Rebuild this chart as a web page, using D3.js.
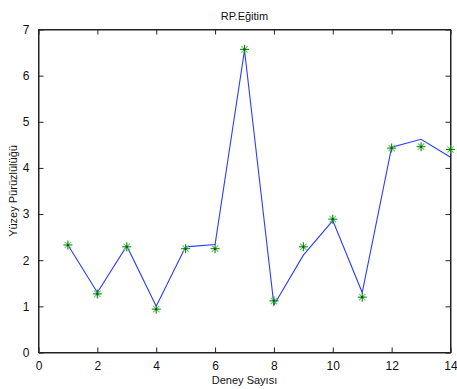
<!DOCTYPE html>
<html>
<head>
<meta charset="utf-8">
<script src="https://cdn.jsdelivr.net/npm/d3@7"></script>
<style>
  html, body { margin: 0; padding: 0; background: #fff; }
  svg { display: block; }
  text { font-family: "Liberation Sans", Arial, sans-serif; fill: #111; }
</style>
</head>
<body>
<script>
const titleText = "RP.Eğitim";
const xLabel = "Deney Sayısı";
const yLabel = "Yüzey Pürüzlülüğü";
const experiments = [1, 2, 3, 4, 5, 6, 7, 8, 9, 10, 11, 12, 13, 14];
const predicted = [2.33, 1.30, 2.31, 1.00, 2.29, 2.34, 6.55, 1.03, 2.11, 2.86, 1.30, 4.45, 4.62, 4.23];
const measured = [2.33, 1.27, 2.29, 0.94, 2.25, 2.25, 6.57, 1.12, 2.29, 2.89, 1.20, 4.43, 4.46, 4.40];
const xTicks = [0, 2, 4, 6, 8, 10, 12, 14];
const yTicks = [0, 1, 2, 3, 4, 5, 6, 7];

const W = 457, H = 389;
const L = 38.5, R = 450.5, T = 29.5, B = 352.5;

const svg = d3.select("body").append("svg").attr("width", W).attr("height", H);

const x = d3.scaleLinear().domain([0, 14]).range([L, R]);
const y = d3.scaleLinear().domain([0, 7]).range([B, T]);

const axisColor = "#222";
const tickLen = 5;
const fmt = d3.format("d");

svg.append("rect").attr("x", L).attr("y", T).attr("width", R - L).attr("height", B - T)
  .attr("fill", "none").attr("stroke", axisColor).attr("stroke-width", 1);

const gx = svg.append("g").attr("transform", `translate(0,${B})`)
  .call(d3.axisBottom(x).tickValues(xTicks).tickFormat(fmt).tickSizeInner(-tickLen).tickSizeOuter(0).tickPadding(9));
const gy = svg.append("g").attr("transform", `translate(${L},0)`)
  .call(d3.axisLeft(y).tickValues(yTicks).tickFormat(fmt).tickSizeInner(-tickLen).tickSizeOuter(0).tickPadding(9));
const gxTop = svg.append("g").attr("transform", `translate(0,${T})`)
  .call(d3.axisTop(x).tickValues(xTicks).tickSizeInner(-tickLen).tickSizeOuter(0).tickFormat(""));
const gyRight = svg.append("g").attr("transform", `translate(${R},0)`)
  .call(d3.axisRight(y).tickValues(yTicks).tickSizeInner(-tickLen).tickSizeOuter(0).tickFormat(""));

[gx, gy, gxTop, gyRight].forEach(g => {
  g.select(".domain").attr("stroke", axisColor);
  g.selectAll(".tick line").attr("stroke", axisColor);
  g.selectAll(".tick text").style("font-size", "12px").style("font-family", "Liberation Sans, Arial, sans-serif").attr("fill", "#111");
});

const line = d3.line().x((d, i) => x(experiments[i])).y(d => y(d));
svg.append("path").datum(predicted)
  .attr("d", line).attr("fill", "none").attr("stroke", "#2b3cff").attr("stroke-width", 1.1);

const ms = svg.append("g");
measured.forEach((v, i) => {
  const cx = x(experiments[i]), cy = y(v);
  const r = 4.5, rd = 3.2;
  const g = ms.append("g").attr("transform", `translate(${cx},${cy})`)
    .attr("stroke", "#0b8a0b").attr("stroke-width", 1.1);
  g.append("line").attr("x1", -r).attr("x2", r).attr("y1", 0).attr("y2", 0);
  g.append("line").attr("y1", -r).attr("y2", r).attr("x1", 0).attr("x2", 0);
  g.append("line").attr("x1", -rd).attr("x2", rd).attr("y1", -rd).attr("y2", rd).attr("stroke", "#6cc46c");
  g.append("line").attr("x1", -rd).attr("x2", rd).attr("y1", rd).attr("y2", -rd).attr("stroke", "#6cc46c");
  g.append("circle").attr("r", 1.3).attr("fill", "#006400").attr("stroke", "none");
});

svg.append("text").attr("x", (L + R) / 2).attr("y", 20).attr("text-anchor", "middle")
  .style("font-size", "11px").text(titleText);
svg.append("text").attr("x", (L + R) / 2).attr("y", 384).attr("text-anchor", "middle")
  .style("font-size", "11px").text(xLabel);
svg.append("text").attr("transform", `translate(17,${(T + B) / 2}) rotate(-90)`).attr("text-anchor", "middle")
  .style("font-size", "11px").text(yLabel);
</script>
</body>
</html>
